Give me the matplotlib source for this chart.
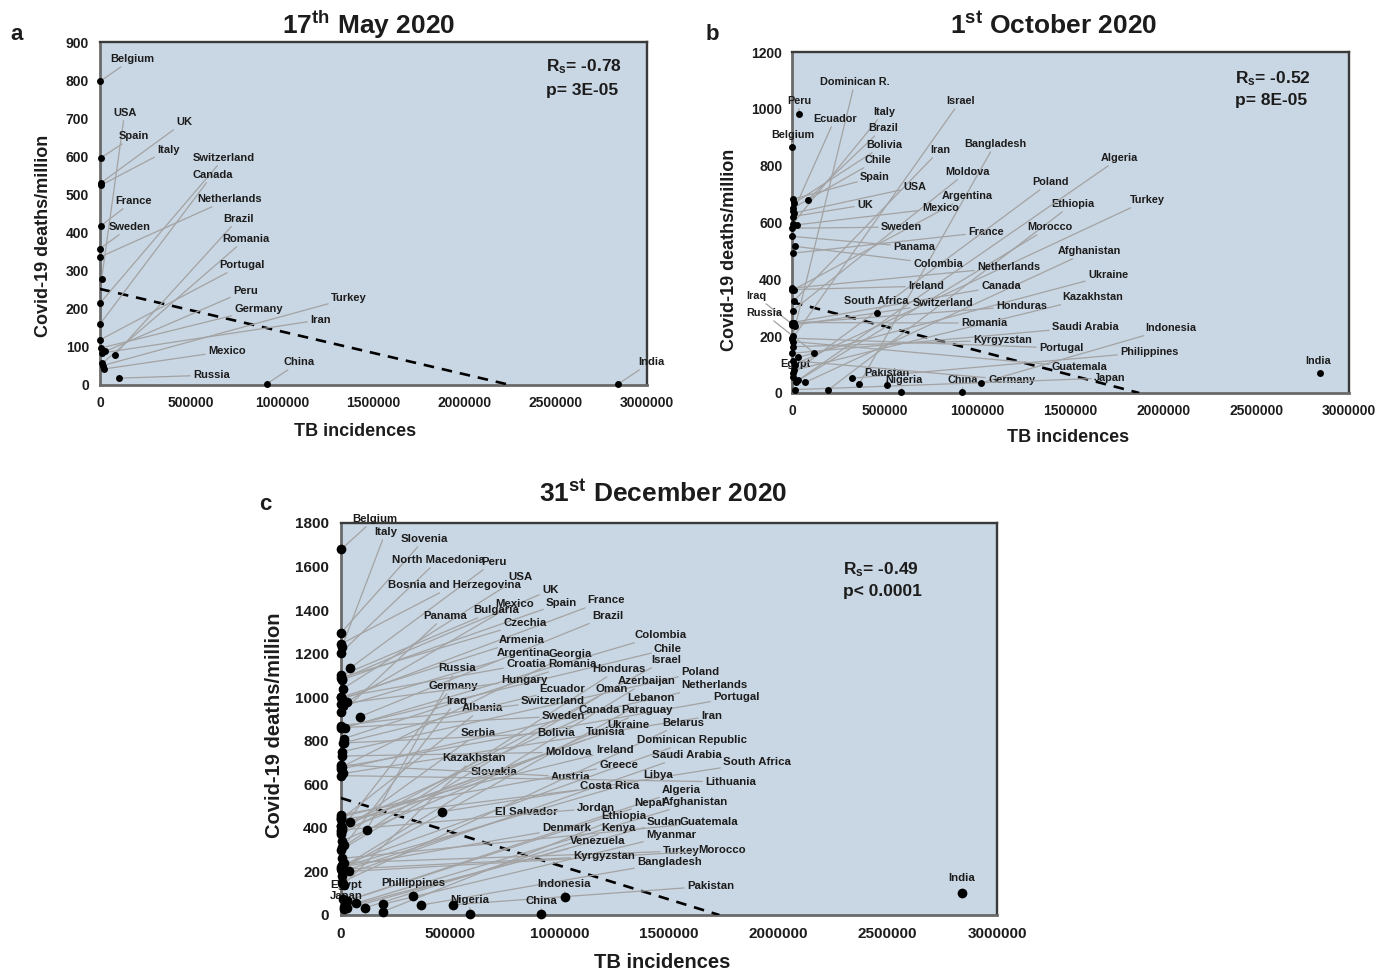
import matplotlib
matplotlib.use("Agg")
import matplotlib.pyplot as plt

plt.rcParams['font.family'] = ['Liberation Sans', 'DejaVu Sans']
plt.rcParams['font.weight'] = 'bold'
plt.rcParams['mathtext.fontset'] = 'custom'
plt.rcParams['mathtext.rm'] = 'Liberation Sans:bold'
plt.rcParams['mathtext.bf'] = 'Liberation Sans:bold'
plt.rcParams['mathtext.it'] = 'Liberation Sans:bold'

# ---------------- data: panel a (17 May 2020) ----------------
names_a = ["Belgium", "USA", "Spain", "UK", "Italy", "Switzerland", "Canada", "France",
           "Netherlands", "Sweden", "Brazil", "Romania", "Portugal", "Peru", "Germany",
           "Turkey", "Iran", "Mexico", "China", "Russia", "India"]
tb_a = [900, 9000, 4300, 4600, 4200, 500, 1800, 5300, 850, 530, 82000, 13000, 2000,
        29000, 5500, 15000, 11000, 22000, 915000, 106000, 2840000]
deaths_a = [797, 279, 596, 530, 524, 215, 161, 418, 336, 358, 80, 57, 119, 88, 97,
            51, 84, 42, 3, 18, 2]
lab_a_x = [55e3, 71e3, 104e3, 417e3, 313e3, 510e3, 505e3, 82e3, 532e3, 49e3, 675e3,
           669e3, 653e3, 729e3, 735e3, 1267e3, 1152e3, 592e3, 1009e3, 510e3, 2950e3]
lab_a_y = [855, 714, 653, 690, 617, 596, 551, 483, 488, 415, 436, 383, 315, 247, 199,
           228, 171, 89, 60, 26, 60]
fit_a = [252, 2.25e6]          # intercept, x-intercept of trend line
stats_a = ["-0.78", "p= 3E-05"]

# ---------------- data: panel b (1 October 2020) ----------------
names_b = ["Dominican R.", "Peru", "Ecuador", "Italy", "Belgium", "Brazil", "Bolivia",
           "Chile", "Spain", "Israel", "Iran", "Bangladesh", "Moldova", "USA", "Argentina",
           "Mexico", "UK", "Sweden", "Panama", "France", "Poland", "Ethiopia", "Algeria",
           "Turkey", "Morocco", "Afghanistan", "Colombia", "Netherlands", "Ukraine",
           "Ireland", "Canada", "Kazakhstan", "South Africa", "Switzerland", "Honduras",
           "Iraq", "Russia", "Romania", "Saudi Arabia", "Indonesia", "Kyrgyzstan",
           "Portugal", "Philippines", "Egypt", "Guatemala", "Pakistan", "Nigeria", "China",
           "Germany", "Japan", "India"]
tb_b = [4500, 38000, 8000, 4000, 900, 85000, 12000, 3000, 4300, 250, 11000, 362000, 3500,
        9000, 10000, 29000, 4600, 500, 2000, 5000, 5000, 192000, 22000, 15000, 35000,
        70000, 18000, 800, 30000, 300, 1800, 9000, 456000, 500, 3000, 16000, 118000,
        13000, 2500, 1020000, 8000, 2000, 325000, 8000, 3000, 510000, 587000, 917000,
        5500, 15000, 2844000]
deaths_b = [200, 983, 640, 596, 865, 680, 668, 650, 682, 190, 325, 32, 290, 633, 364,
            592, 621, 580, 551, 492, 70, 9, 40, 100, 45, 37, 516, 369, 125, 364, 248, 80,
            282, 238, 245, 235, 142, 248, 140, 36, 163, 193, 52, 57, 181, 28, 3, 3, 114,
            12, 70]
lab_b_x = [151e3, -27e3, 113e3, 436e3, -113e3, 409e3, 399e3, 388e3, 366e3, 829e3, 743e3,
           926e3, 824e3, 598e3, 808e3, 700e3, 350e3, 479e3, 544e3, 948e3, 1293e3, 1395e3,
           1664e3, 1820e3, 1266e3, 1433e3, 652e3, 996e3, 1594e3, 625e3, 1018e3, 1454e3,
           280e3, 652e3, 1099e3, -248e3, -248e3, 910e3, 1400e3, 1901e3, 975e3, 1330e3,
           1767e3, -65e3, 1400e3, 388e3, 500e3, 840e3, 1056e3, 1627e3, 2833e3]
lab_b_y = [1094, 1027, 964, 989, 908, 932, 873, 820, 760, 1027, 855, 876, 778, 725, 693,
           651, 662, 584, 514, 566, 742, 665, 827, 679, 584, 500, 454, 443, 415, 376, 376,
           338, 324, 317, 306, 341, 281, 246, 232, 229, 186, 158, 144, 102, 91, 72, 44,
           46, 46, 53, 113]
fit_b = [320, 1.87e6]
stats_b = ["-0.52", "p= 8E-05"]

# ---------------- data: panel c (31 December 2020) ----------------
names_c = ["Belgium", "Italy", "Slovenia", "North Macedonia", "Peru",
           "Bosnia and Herzegovina", "USA", "UK", "Mexico", "Spain", "France", "Bulgaria",
           "Panama", "Brazil", "Czechia", "Armenia", "Colombia", "Argentina", "Georgia",
           "Chile", "Israel", "Croatia", "Romania", "Honduras", "Russia", "Poland",
           "Germany", "Hungary", "Azerbaijan", "Netherlands", "Ecuador", "Oman", "Lebanon",
           "Portugal", "Iraq", "Albania", "Switzerland", "Canada", "Paraguay", "Sweden",
           "Iran", "Ukraine", "Belarus", "Serbia", "Bolivia", "Tunisia",
           "Dominican Republic", "Moldova", "Ireland", "Saudi Arabia", "Kazakhstan",
           "South Africa", "Greece", "Slovakia", "Austria", "Libya", "Costa Rica",
           "Lithuania", "Algeria", "Nepal", "Afghanistan", "El Salvador", "Jordan",
           "Ethiopia", "Sudan", "Guatemala", "Denmark", "Kenya", "Myanmar", "Venezuela",
           "Turkey", "Morocco", "Kyrgyzstan", "Bangladesh", "Egypt", "Phillippines",
           "Indonesia", "Pakistan", "Japan", "Nigeria", "China", "India"]
tb_c = [900, 4000, 120, 250, 41000, 1000, 9000, 4600, 29000, 4300, 5000, 1500, 2000,
        87000, 500, 900, 18000, 11000, 3000, 3000, 250, 450, 13000, 3000, 117000, 5000,
        5500, 600, 6500, 800, 8000, 300, 800, 2000, 16000, 500, 500, 1800, 3000, 500,
        11000, 41000, 2700, 1200, 12000, 4000, 4500, 3500, 300, 2500, 12000, 460000, 500,
        300, 500, 2700, 500, 1000, 26000, 28000, 70000, 4000, 500, 193000, 29000, 5000,
        300, 110000, 193000, 13000, 15000, 35000, 7000, 364000, 8000, 331000, 1024000,
        510000, 15000, 590000, 915000, 2840000]
deaths_c = [1679, 1230, 1296, 1205, 1133, 1245, 1040, 1085, 980, 1080, 990, 1100, 930,
            911, 1090, 1000, 860, 960, 680, 860, 370, 1000, 810, 310, 390, 750, 400, 970,
            220, 670, 790, 300, 210, 680, 320, 440, 870, 410, 340, 860, 650, 428, 150, 380,
            790, 390, 230, 730, 450, 180, 140, 474, 460, 410, 690, 220, 440, 640, 65, 65,
            55, 200, 390, 16, 30, 260, 220, 33, 50, 35, 240, 200, 210, 45, 73, 85, 81, 47,
            27, 6, 3, 101]
lab_c_x = [50e3, 151e3, 274e3, 233e3, 640e3, 215e3, 764e3, 919e3, 704e3, 937e3, 1125e3,
           604e3, 375e3, 1148e3, 741e3, 723e3, 1344e3, 713e3, 947e3, 1431e3, 1418e3,
           755e3, 947e3, 1148e3, 444e3, 1555e3, 398e3, 732e3, 1267e3, 1555e3, 905e3,
           1162e3, 1308e3, 1701e3, 480e3, 553e3, 823e3, 1084e3, 1280e3, 919e3, 1646e3,
           1216e3, 1468e3, 549e3, 896e3, 1120e3, 1354e3, 933e3, 1166e3, 1422e3, 462e3,
           1747e3, 1180e3, 594e3, 960e3, 1381e3, 1093e3, 1665e3, 1468e3, 1340e3, 1468e3,
           704e3, 1079e3, 1189e3, 1399e3, 1550e3, 919e3, 1189e3, 1395e3, 1047e3, 1472e3,
           1633e3, 1061e3, 1354e3, -50e3, 183e3, 896e3, 1582e3, -50e3, 498e3, 846e3,
           2840e3]
lab_c_y = [1818, 1758, 1726, 1630, 1621, 1515, 1552, 1492, 1428, 1433, 1446, 1400, 1373,
           1373, 1341, 1263, 1286, 1203, 1198, 1221, 1171, 1152, 1152, 1129, 1134, 1116,
           1051, 1079, 1074, 1056, 1038, 1038, 996, 1001, 983, 950, 983, 941, 941, 914,
           914, 872, 882, 836, 836, 840, 803, 748, 758, 735, 721, 702, 689, 657, 634, 643,
           592, 611, 574, 514, 519, 473, 491, 455, 427, 427, 399, 399, 367, 340, 294, 298,
           271, 243, 138, 147, 142, 133, 87, 69, 64, 170]
fit_c = [537, 1.73e6]
stats_c = ["-0.49", "p< 0.0001"]

x_ticks = [0, 500000, 1000000, 1500000, 2000000, 2500000, 3000000]
x_tick_labels = ["0", "500000", "1000000", "1500000", "2000000", "2500000", "3000000"]

BG = "#c9d6e3"
TXT = "#1c1c1c"
LEADER = "#a3a3a3"

W, H = 1391, 973
fig = plt.figure(figsize=(W / 100, H / 100), dpi=100)


def px_axes(l, t, r, b):
    return fig.add_axes([l / W, 1 - b / H, (r - l) / W, (b - t) / H])


def panel(ax, names, tb, deaths, lab_x, lab_y, ymax, ystep, fit, stats, fs_lab, ms,
          fs_tick, pad_y, pad_x, stat_pos, plain=()):
    ax.set_facecolor(BG)
    ax.set_xlim(0, 3e6)
    ax.set_ylim(0, ymax)
    for name, x, y, lx, ly in zip(names, tb, deaths, lab_x, lab_y):
        if name in plain:
            ax.text(lx, ly, name, ha="center", va="center", fontsize=fs_lab,
                    fontweight="bold", color=TXT, zorder=4)
        else:
            ax.annotate(name, xy=(x, y), xytext=(lx, ly), textcoords="data",
                        ha="left", va="center", fontsize=fs_lab, fontweight="bold",
                        color=TXT, annotation_clip=False, zorder=4,
                        arrowprops=dict(arrowstyle="-", color=LEADER, lw=0.9,
                                        shrinkA=0, shrinkB=0))
    ax.plot([0, fit[1]], [fit[0], 0], linestyle=(0, (4, 3)), color="black", lw=1.9,
            zorder=3)
    ax.plot(tb, deaths, "o", color="black", ms=ms, clip_on=False, zorder=6,
            markeredgewidth=0)
    ax.set_xticks(x_ticks)
    ax.set_xticklabels(x_tick_labels)
    yt = list(range(0, ymax + 1, ystep))
    ax.set_yticks(yt)
    ax.set_yticklabels([str(v) for v in yt])
    ax.tick_params(axis="both", length=0, labelsize=fs_tick, colors=TXT)
    ax.tick_params(axis="y", pad=pad_y)
    ax.tick_params(axis="x", pad=pad_x)
    for lab in ax.get_xticklabels() + ax.get_yticklabels():
        lab.set_fontweight("bold")
    for s in ("top", "right"):
        ax.spines[s].set_color("#3a3a3a")
        ax.spines[s].set_linewidth(1.7)
    for s in ("left", "bottom"):
        ax.spines[s].set_color("#6a6a6a")
        ax.spines[s].set_linewidth(2.0)
    fs_stat = 12.5
    ax.text(stat_pos[0], stat_pos[1], r"R$_{\mathrm{s}}$= " + stats[0],
            transform=ax.transAxes, ha="left", va="center", fontsize=fs_stat,
            fontweight="bold", color=TXT)
    ax.text(stat_pos[0], stat_pos[2], stats[1], transform=ax.transAxes, ha="left",
            va="center", fontsize=fs_stat, fontweight="bold", color=TXT)


ax_a = px_axes(100, 42, 647, 385)
panel(ax_a, names_a, tb_a, deaths_a, lab_a_x, lab_a_y, 900, 100, fit_a, stats_a,
      8.0, 5, 10, 8, 8, (0.815, 0.927, 0.86))

ax_b = px_axes(792, 52, 1349, 393)
panel(ax_b, names_b, tb_b, deaths_b, lab_b_x, lab_b_y, 1200, 200, fit_b, stats_b,
      7.8, 5, 10, 7, 8, (0.795, 0.921, 0.859), plain=("India",))

ax_c = px_axes(341, 523, 997, 915)
panel(ax_c, names_c, tb_c, deaths_c, lab_c_x, lab_c_y, 1800, 200, fit_c, stats_c,
      8.2, 7, 11, 9, 9, (0.765, 0.880, 0.824), plain=("India",))


def ftext(x, y, s, **kw):
    fig.text(x / W, 1 - y / H, s, color=TXT, fontweight="bold", **kw)


# titles
ftext(369, 25, r"17$^{\mathrm{th}}$ May 2020", ha="center", va="center", fontsize=19)
ftext(1054, 25, r"1$^{\mathrm{st}}$ October 2020", ha="center", va="center", fontsize=19)
ftext(663, 493, r"31$^{\mathrm{st}}$ December 2020", ha="center", va="center", fontsize=19)

# panel letters
ftext(10, 35, "a", ha="left", va="center", fontsize=16)
ftext(706, 35, "b", ha="left", va="center", fontsize=16)
ftext(259, 505, "c", ha="left", va="center", fontsize=16)

# axis labels
ftext(355, 432, "TB incidences", ha="center", va="center", fontsize=13)
ftext(1068, 437, "TB incidences", ha="center", va="center", fontsize=13)
ftext(662, 962, "TB incidences", ha="center", va="center", fontsize=14.5)
ftext(44, 236, "Covid-19 deaths/million", ha="center", va="center", fontsize=13,
      rotation=90)
ftext(730, 250, "Covid-19 deaths/million", ha="center", va="center", fontsize=13,
      rotation=90)
ftext(274, 725, "Covid-19 deaths/million", ha="center", va="center", fontsize=14.5,
      rotation=90)

fig.savefig("out.png", dpi=100)
